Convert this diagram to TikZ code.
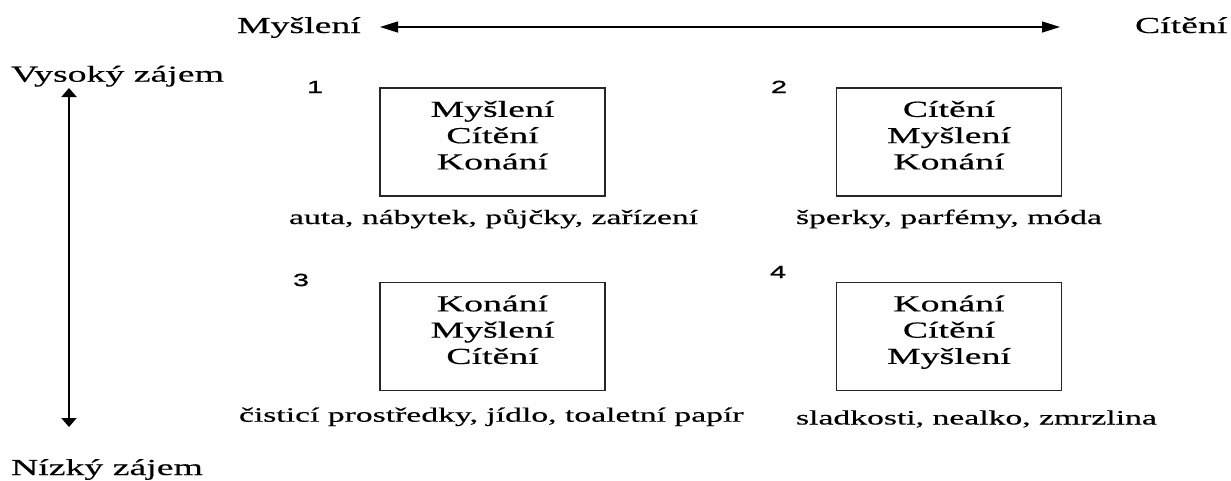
\documentclass[tikz,border=0pt]{standalone}
\usepackage{fontspec}
\setmainfont{Liberation Serif}[FakeStretch=1.65, FakeBold=0.4]
\newfontfamily\digitfont{Liberation Sans}[FakeStretch=1.65, FakeBold=1.2]
\usetikzlibrary{arrows.meta}

\begin{document}
\begin{tikzpicture}[x=1pt,y=-1pt,
  every node/.style={inner sep=0pt, outer sep=0pt},
  big/.style={font=\fontsize{22.9}{26.3}\selectfont},
  small/.style={font=\fontsize{20.4}{24}\selectfont, anchor=base west},
  num/.style={font=\digitfont\fontsize{17.5}{20}\selectfont, anchor=base west},
  panel/.style={draw=black!85, line width=1.4pt, minimum width=225pt, minimum height=108pt},
  inside/.style={big, align=center, anchor=north},
  haxis/.style={line width=1.3pt, {Triangle[length=18pt,width=11pt]}-{Triangle[length=18pt,width=11pt]}},
  vaxis/.style={line width=2pt, {Triangle[length=9pt,width=15pt]}-{Triangle[length=9pt,width=15pt]}}
]
\useasboundingbox (0,0) rectangle (1231,480);

% axis captions
\node[big, anchor=base west] (think) at (237,33) {Myšlení};
\node[big, anchor=base west] (feel)  at (1135,33) {Cítění};
\node[big, anchor=base west] (high)  at (11,81.7) {Vysoký zájem};
\node[big, anchor=base west] (low)   at (11,475) {Nízký zájem};

% axes
\coordinate (hL) at (380,27);
\coordinate (hR) at (1060,27);
\coordinate (vT) at (69,88);
\coordinate (vB) at (69,427);
\draw[haxis] (hL) -- (hR);
\draw[vaxis] (vT) -- (vB);

% quadrant panels
\node[panel] (box1) at (492.5,142) {};
\node[panel] (box2) at (949,142) {};
\node[panel] (box3) at (492.5,336.5) {};
\node[panel] (box4) at (949,336.5) {};

\node[inside] (t1) at ([yshift=-12.9pt]box1.north) {Myšlení\\Cítění\\Konání};
\node[inside] (t2) at ([yshift=-12.9pt]box2.north) {Cítění\\Myšlení\\Konání};
\node[inside] (t3) at ([yshift=-12.9pt]box3.north) {Konání\\Myšlení\\Cítění};
\node[inside] (t4) at ([yshift=-12.9pt]box4.north) {Konání\\Cítění\\Myšlení};

% quadrant numbers
\node[num] (n1) at (307,93) {1};
\node[num] (n2) at (771,93) {2};
\node[num] (n3) at (293,286) {3};
\node[num] (n4) at (770,278) {4};

% product examples
\node[small] (e1) at (289,224) {auta, nábytek, půjčky, zařízení};
\node[small] (e2) at (796,224) {šperky, parfémy, móda};
\node[small] (e3) at (239,421.7) {čisticí prostředky, jídlo, toaletní papír};
\node[small] (e4) at (796,424.5) {sladkosti, nealko, zmrzlina};
\end{tikzpicture}
\end{document}
